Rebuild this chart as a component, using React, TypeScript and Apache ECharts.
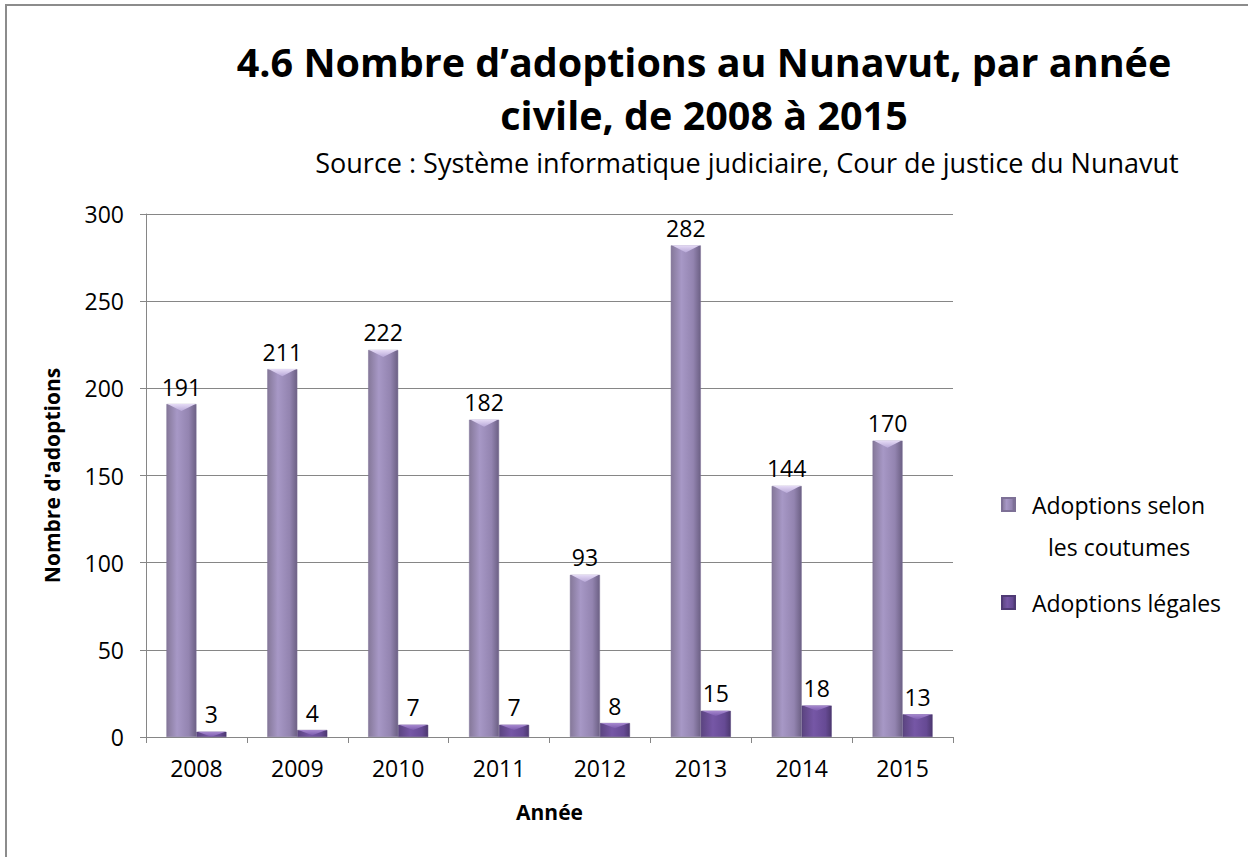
import React, { useEffect, useRef } from "react";
import * as echarts from "echarts";

const years = ["2008", "2009", "2010", "2011", "2012", "2013", "2014", "2015"];
const customary = [191, 211, 222, 182, 93, 282, 144, 170];
const legal = [3, 4, 7, 7, 8, 15, 18, 13];
const seriesNames = ["Adoptions selon les coutumes", "Adoptions légales"];

const FONT = "'Open Sans', 'Noto Sans', sans-serif";
const BEVEL = "path://M0,0 L30,0 L15,8 Z";

export default function App() {
  const ref = useRef<HTMLDivElement>(null);
  useEffect(() => {
    if (!ref.current) return;
    const chart = echarts.init(ref.current, null, { renderer: "svg" });
    const grad1 = new echarts.graphic.LinearGradient(0, 0, 1, 0, [
      { offset: 0, color: "#857899" },
      { offset: 0.35, color: "#a798c6" },
      { offset: 0.75, color: "#9384b0" },
      { offset: 1, color: "#6c6084" },
    ]);
    const grad2 = new echarts.graphic.LinearGradient(0, 0, 1, 0, [
      { offset: 0, color: "#5b4480" },
      { offset: 0.4, color: "#7657a6" },
      { offset: 0.8, color: "#664a94" },
      { offset: 1, color: "#4d3870" },
    ]);
    const bevel1 = new echarts.graphic.LinearGradient(0, 0, 0, 1, [
      { offset: 0, color: "#e6dcf6" },
      { offset: 1, color: "#b8a8d8" },
    ]);
    const bevel2 = new echarts.graphic.LinearGradient(0, 0, 0, 1, [
      { offset: 0, color: "#a88ad0" },
      { offset: 1, color: "#7c5cae" },
    ]);
    const labelStyle = {
      show: true,
      position: "top" as const,
      distance: 6,
      color: "#000",
      fontSize: 23,
      fontFamily: FONT,
    };
    const legendText = { fontFamily: FONT, fontSize: 23, color: "#000", padding: [0, 0, 0, 12] };
    chart.setOption({
      animation: false,
      backgroundColor: "#fff",
      title: [
        {
          text: "4.6 Nombre d’adoptions au Nunavut, par année\ncivile, de 2008 à 2015",
          left: 699,
          top: 30,
          textAlign: "center",
          textStyle: {
            fontFamily: FONT,
            fontWeight: "bold",
            fontSize: 39.5,
            lineHeight: 53,
            color: "#000",
          },
        },
        {
          text: "Source : Système informatique judiciaire, Cour de justice du Nunavut",
          left: 742,
          top: 144,
          textAlign: "center",
          textStyle: {
            fontFamily: FONT,
            fontWeight: "normal",
            fontSize: 27,
            color: "#000",
          },
        },
      ],
      legend: [
        {
          data: [seriesNames[0]],
          left: 996,
          top: 488,
          orient: "vertical",
          itemWidth: 13,
          itemHeight: 13,
          icon: "rect",
          formatter: () => "Adoptions selon",
          textStyle: legendText,
        },
        {
          data: [seriesNames[1]],
          left: 996,
          top: 586,
          orient: "vertical",
          itemWidth: 13,
          itemHeight: 13,
          icon: "rect",
          textStyle: legendText,
        },
      ],
      graphic: [
        {
          type: "text",
          left: 1048,
          top: 535,
          style: { text: "les coutumes", fontFamily: FONT, fontSize: 23, fill: "#000" },
        },
        {
          type: "rect",
          shape: { x: 6, y: 5, width: 1260, height: 870 },
          style: { fill: "none", stroke: "#8c8c8c", lineWidth: 2 },
          silent: true,
        },
      ],
      grid: { left: 146, right: 295, top: 214, bottom: 120 },
      xAxis: {
        type: "category",
        data: years,
        name: "Année",
        nameLocation: "middle",
        nameGap: 64,
        nameTextStyle: { fontFamily: FONT, fontWeight: "bold", fontSize: 21, color: "#000" },
        axisLine: { lineStyle: { color: "#868686", width: 1 } },
        axisTick: { show: true, length: 6, lineStyle: { color: "#868686" } },
        axisLabel: { fontFamily: FONT, fontSize: 23, color: "#000", margin: 19 },
      },
      yAxis: {
        type: "value",
        min: 0,
        max: 300,
        interval: 50,
        name: "Nombre d'adoptions",
        nameLocation: "middle",
        nameGap: 84,
        nameTextStyle: { fontFamily: FONT, fontWeight: "bold", fontSize: 21, color: "#000" },
        axisLine: { show: true, lineStyle: { color: "#868686", width: 1 } },
        axisTick: { show: true, length: 6, lineStyle: { color: "#868686" } },
        axisLabel: { fontFamily: FONT, fontSize: 23, color: "#000", margin: 22 },
        splitLine: { lineStyle: { color: "#868686", width: 1 } },
      },
      series: [
        {
          name: seriesNames[0],
          type: "bar",
          data: customary,
          barWidth: 30,
          barGap: "0%",
          itemStyle: { color: grad1, borderColor: "#7d7096", borderWidth: 0.5 },
          label: labelStyle,
        },
        {
          name: seriesNames[1],
          type: "bar",
          data: legal,
          barWidth: 30,
          itemStyle: { color: grad2, borderColor: "#4f3a75", borderWidth: 0.5 },
          label: labelStyle,
        },
        {
          name: "bevel1",
          type: "pictorialBar",
          data: customary,
          symbol: BEVEL,
          symbolSize: [28, 7],
          symbolPosition: "end",
          symbolOffset: [-15, 0],
          itemStyle: { color: bevel1 },
          silent: true,
          z: 5,
        },
        {
          name: "bevel2",
          type: "pictorialBar",
          data: legal,
          symbol: BEVEL,
          symbolSize: [28, 5],
          symbolPosition: "end",
          symbolOffset: [15, 0],
          itemStyle: { color: bevel2 },
          silent: true,
          z: 5,
        },
      ],
    });
    return () => chart.dispose();
  }, []);
  return (
    <div
      ref={ref}
      style={{ position: "absolute", left: 0, top: 0, width: 1248, height: 857 }}
    />
  );
}
